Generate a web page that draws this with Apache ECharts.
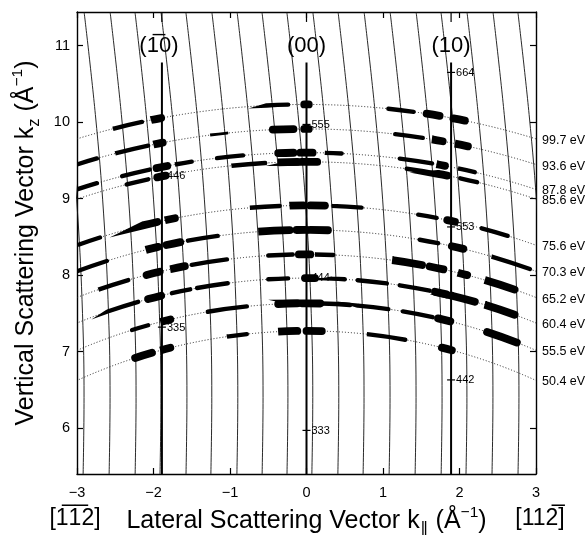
<!DOCTYPE html>
<html><head><meta charset="utf-8">
<script src="https://cdn.jsdelivr.net/npm/echarts@6/dist/echarts.min.js"></script>
<style>html,body{margin:0;padding:0;background:#fff}#c{width:586px;height:535px}</style>
</head><body><div id="c"></div>
<script>
// ---- data ----
const xTicks = [-3, -2, -1, 0, 1, 2, 3];
const yTicks = [6, 7, 8, 9, 10, 11];
const energyLabels = ['99.7 eV','93.6 eV','87.8 eV','85.6 eV','75.6 eV','70.3 eV','65.2 eV','60.4 eV','55.5 eV','50.4 eV'];
const shellRadii = [10.23, 9.91, 9.60, 9.48, 8.91, 8.59, 8.27, 7.96, 7.63, 7.27];
// spots on each energy shell: [kx start, kx end, intensity level]
const spots997 = [[-2.53,-2.15,2],[-2.03,-1.90,3],[-0.52,-0.24,2],[-0.03,0.03,3],[1.07,1.40,2],[1.57,1.74,3],[1.92,2.07,3]];
const spots936 = [[-3.00,-2.74,2],[-2.50,-2.07,2],[-2.00,-1.88,3],[-1.26,-1.04,1],[-0.44,-0.17,3],[-0.03,0.03,3],[1.16,1.52,2],[1.64,1.78,3],[1.94,2.11,3]];
const spots878 = [[-3.00,-2.74,2],[-2.41,-2.05,2],[-1.96,-1.82,3],[-1.72,-1.50,2],[-1.17,-0.83,2],[-0.37,-0.17,3],[-0.08,0.08,3],[0.24,0.46,2],[1.22,1.64,2],[1.70,1.81,3],[1.98,2.20,2]];
const spots856 = [[-2.35,-2.07,2],[-1.95,-1.84,3],[-0.98,-0.54,2],[-0.37,-0.12,3],[-0.06,0.14,3],[1.31,1.70,2],[1.72,1.84,3],[2.01,2.23,2]];
const spots756 = [[-2.99,-2.70,2],[-2.14,-1.95,3],[-1.85,-1.72,3],[-0.74,-0.35,2],[-0.22,-0.04,3],[0.05,0.24,3],[0.33,0.72,2],[1.46,1.70,2],[1.84,1.94,3],[2.29,2.63,2]];
const spots703 = [[-2.99,-2.61,2],[-2.10,-1.94,3],[-1.83,-1.65,3],[-1.55,-1.16,2],[-0.63,-0.22,3],[-0.13,0.00,3],[0.05,0.28,3],[1.48,1.72,2],[1.90,2.05,3],[2.42,2.92,2]];
const spots652 = [[-2.72,-2.33,2],[-2.09,-1.92,3],[-1.78,-1.59,3],[-1.50,-1.04,2],[-0.50,-0.18,2],[-0.10,0.05,3],[0.11,0.35,2],[1.12,1.51,3],[1.61,1.79,3],[1.98,2.10,3],[2.33,2.72,3]];
const spots604 = [[-2.60,-2.20,2],[-2.07,-1.90,3],[-1.76,-1.52,2],[-1.43,-1.03,2],[-0.50,-0.24,2],[-0.02,0.11,3],[0.33,0.50,2],[0.67,1.05,2],[1.22,1.61,2],[1.68,1.83,3],[1.90,2.20,3],[2.33,2.72,3]];
const spots555 = [[-2.28,-2.07,2],[-1.91,-1.78,3],[-1.29,-0.78,2],[-0.37,-0.12,3],[-0.05,0.18,3],[0.20,0.57,2],[0.67,1.07,2],[1.26,1.65,2],[1.72,1.88,3],[2.36,2.75,3]];
const spots504 = [[-2.24,-2.02,3],[-1.91,-1.78,3],[-1.04,-0.78,2],[-0.37,-0.12,3],[0.00,0.20,3],[0.79,1.29,2],[1.77,1.90,3]];
// diffraction rods
const rodX = [-1.89, 0, 1.89];
const rodLabels = ['(1\u03050)', '(00)', '(10)'];
const rodTopKz = 10.78;
const rodLabelKz = 11.0;
// bulk Bragg points
const braggX = [-1.89, -1.89, 0, 0, 0, 1.89, 1.89, 1.89];
const braggKz = [9.30, 7.32, 9.97, 7.97, 5.97, 10.65, 8.63, 6.63];
const braggLabels = ['446', '335', '555', '444', '333', '664', '553', '442'];
// thin tilted lines: kx where each meets the bottom edge, plus the common bend of the lines
const slantBottomX = [-2.92,-2.58,-2.24,-1.915,-1.575,-1.25,-0.91,-0.58,-0.255,0.07,0.41,0.74,1.08,1.42,1.76,2.085,2.425,2.765,3.09];
const slantProfileKz = [11.44, 10.1, 8.8, 7.5, 6.4, 5.4];
const slantProfileDx = [-0.327, -0.180, -0.072, -0.008, 0.012, 0];

// ---- chart ----
const FONT = '"Liberation Sans", Arial, Helvetica, sans-serif';
const spotsByShell = [spots997, spots936, spots878, spots856, spots756, spots703, spots652, spots604, spots555, spots504];
const levelWidth = {1: 3, 2: 4.4, 3: 7.8};
const X_MIN = -3, X_MAX = 3, Y_MIN = 5.4, Y_MAX = 11.44;

function clipGroup(params, children) {
  const cs = params.coordSys;
  return {type: 'group', clipPath: {type: 'rect', shape: {x: cs.x, y: cs.y, width: cs.width, height: cs.height}}, children};
}

const series = [];
slantBottomX.forEach(bx => {
  series.push({
    type: 'line', xAxisIndex: 0, yAxisIndex: 0, smooth: 0.4, symbol: 'none', silent: true, clip: true,
    lineStyle: {color: '#111', width: 0.9},
    data: slantProfileKz.map((kz, j) => [bx + slantProfileDx[j], kz]),
    z: 1
  });
});
series.push({
  type: 'custom', xAxisIndex: 0, yAxisIndex: 0, silent: true, z: 2,
  data: shellRadii.map((r, i) => [r, i]),
  renderItem(params, api) {
    const r = api.value(0), i = api.value(1);
    const c = api.coord([0, 0]);
    const R = api.size([r, r])[0];
    const end = api.coord([X_MAX, Math.sqrt(r * r - X_MAX * X_MAX)]);
    return {type: 'group', children: [
      clipGroup(params, [{type: 'arc', shape: {cx: c[0], cy: c[1], r: R, startAngle: -Math.PI, endAngle: 0, clockwise: true},
        style: {stroke: '#222', fill: 'none', lineWidth: 1, lineDash: [1, 2]}}]),
      {type: 'text', x: end[0] + 6, y: end[1] + 1.5, style: {text: energyLabels[i], fill: '#000', font: '12.5px ' + FONT, verticalAlign: 'middle', align: 'left'}}
    ]};
  }
});
series.push({
  type: 'custom', xAxisIndex: 0, yAxisIndex: 0, silent: true, z: 3,
  data: rodX.map((x, i) => [x, i]),
  renderItem(params, api) {
    const x = api.value(0), i = api.value(1);
    const a = api.coord([x, rodTopKz]), b = api.coord([x, Y_MIN]);
    const t1 = api.coord([x, Y_MAX]), t2 = api.coord([x, Y_MAX - 0.13]);
    const lab = api.coord([x, rodLabelKz]);
    return {type: 'group', children: [
      {type: 'line', shape: {x1: a[0], y1: a[1], x2: b[0], y2: b[1]}, style: {stroke: '#000', lineWidth: 2}},
      {type: 'line', shape: {x1: t1[0], y1: t1[1], x2: t2[0], y2: t2[1]}, style: {stroke: '#000', lineWidth: 1.2}},
      {type: 'text', x: lab[0] - (i === 0 ? 3 : 0), y: lab[1], style: {text: rodLabels[i], fill: '#000', font: '22px ' + FONT, align: 'center', verticalAlign: 'middle'}}
    ]};
  }
});
series.push({
  type: 'custom', xAxisIndex: 0, yAxisIndex: 0, silent: true, z: 5,
  data: braggX.map((x, i) => [x, braggKz[i], i]),
  renderItem(params, api) {
    const p = api.coord([api.value(0), api.value(1)]);
    return {type: 'group', children: [
      {type: 'line', shape: {x1: p[0] - 4, y1: p[1], x2: p[0] + 4, y2: p[1]}, style: {stroke: '#000', lineWidth: 1.2}},
      {type: 'text', x: p[0] + 5, y: p[1] + 0.5, style: {text: braggLabels[api.value(2)], fill: '#000', font: '11px ' + FONT, align: 'left', verticalAlign: 'middle'}}
    ]};
  }
});
const spotData = [];
spotsByShell.forEach((arr, si) => arr.forEach(s => spotData.push([shellRadii[si], s[0], s[1], s[2]])));
series.push({
  type: 'custom', xAxisIndex: 0, yAxisIndex: 0, silent: true, z: 4,
  data: spotData,
  renderItem(params, api) {
    const r = api.value(0), x1 = api.value(1), x2 = api.value(2), lv = api.value(3);
    const c = api.coord([0, 0]);
    const R = api.size([r, r])[0];
    const a1 = Math.atan2(-Math.sqrt(r * r - x1 * x1), x1);
    const a2 = Math.atan2(-Math.sqrt(r * r - x2 * x2), x2);
    return clipGroup(params, [{type: 'arc', shape: {cx: c[0], cy: c[1], r: R, startAngle: a1, endAngle: a2, clockwise: true},
      style: {stroke: '#000', fill: 'none', lineWidth: levelWidth[lv], lineCap: 'round'}}]);
  }
});

const axisLineStyle = {color: '#000', width: 1.4};
const tickStyle = {inside: true, length: 6, lineStyle: {color: '#000', width: 1.2}};
const richTitle = {
  n: {fontSize: 25, fontFamily: FONT, color: '#000', lineHeight: 33},
  sub: {fontSize: 16.5, fontFamily: FONT, color: '#000', verticalAlign: 'bottom', lineHeight: 33},
  sup: {fontSize: 15.5, fontFamily: FONT, color: '#000', verticalAlign: 'top', lineHeight: 33}
};

const option = {
  animation: false,
  backgroundColor: '#fff',
  grid: {left: 77, top: 12, width: 459, height: 462, containLabel: false, outerBoundsMode: 'none'},
  xAxis: [
    {type: 'value', min: X_MIN, max: X_MAX, position: 'bottom',
      axisLine: {show: true, onZero: false, lineStyle: axisLineStyle},
      axisTick: Object.assign({customValues: xTicks}, tickStyle),
      axisLabel: {customValues: xTicks, color: '#000', fontSize: 14.5, fontFamily: FONT, margin: 11, formatter: v => String(v).replace('-', '\u2212')},
      splitLine: {show: false},
      name: '{n|Lateral Scattering Vector k}{sub|\u2225}{n| (\u00c5}{sup|\u22121}{n|)}',
      nameLocation: 'middle', nameGap: 28,
      nameTextStyle: {fontSize: 25, fontFamily: FONT, color: '#000', rich: richTitle}},
    {type: 'value', min: X_MIN, max: X_MAX, position: 'top',
      axisLine: {show: true, onZero: false, lineStyle: axisLineStyle},
      axisTick: Object.assign({customValues: xTicks}, tickStyle),
      axisLabel: {show: false}, splitLine: {show: false}}
  ],
  yAxis: [
    {type: 'value', min: Y_MIN, max: Y_MAX, position: 'left',
      axisLine: {show: true, onZero: false, lineStyle: axisLineStyle},
      axisTick: Object.assign({customValues: yTicks}, tickStyle),
      axisLabel: {customValues: yTicks, color: '#000', fontSize: 14.5, fontFamily: FONT, margin: 7},
      splitLine: {show: false},
      name: '{n|Vertical Scattering Vector k}{sub|z}{n| (\u00c5}{sup|\u22121}{n|)}',
      nameLocation: 'middle', nameRotate: 90, nameGap: 32,
      nameTextStyle: {fontSize: 25, fontFamily: FONT, color: '#000', rich: richTitle}},
    {type: 'value', min: Y_MIN, max: Y_MAX, position: 'right',
      axisLine: {show: true, onZero: false, lineStyle: axisLineStyle},
      axisTick: Object.assign({customValues: yTicks}, tickStyle),
      axisLabel: {show: false}, splitLine: {show: false}}
  ],
  graphic: [
    {type: 'text', x: 75, y: 519, style: {text: '[1\u03051\u03052]', font: '23px ' + FONT, fill: '#000', align: 'center', verticalAlign: 'middle'}},
    {type: 'text', x: 540, y: 519, style: {text: '[112\u0305]', font: '23px ' + FONT, fill: '#000', align: 'center', verticalAlign: 'middle'}}
  ],
  series
};
const chart = echarts.init(document.getElementById('c'), null, {renderer: 'canvas'});
chart.setOption(option);
</script>
</body></html>
